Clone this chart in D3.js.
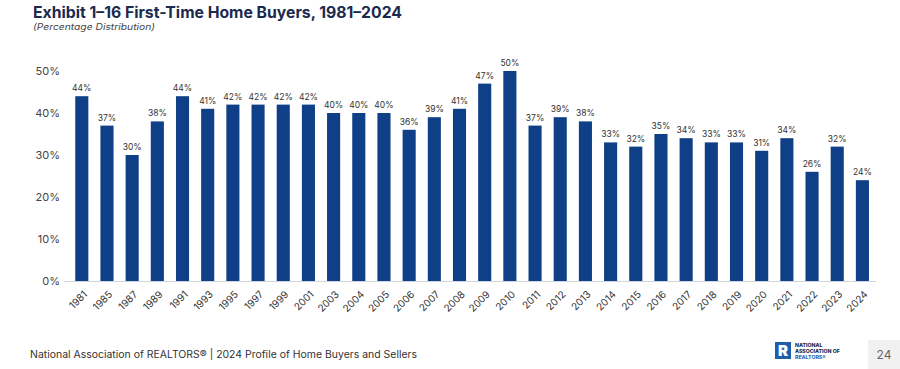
<!DOCTYPE html>
<html>
<head>
<meta charset="utf-8">
<script src="https://cdn.jsdelivr.net/npm/d3@7"></script>
<style>
  body { margin: 0; background: #fff; }
  svg { display: block; font-family: "Inter", "Open Sans", sans-serif; }
</style>
</head>
<body>
<div id="chart"></div>
<script>
var years = ["1981","1985","1987","1989","1991","1993","1995","1997","1999","2001",
  "2003","2004","2005","2006","2007","2008","2009","2010","2011","2012","2013",
  "2014","2015","2016","2017","2018","2019","2020","2021","2022","2023","2024"];
var shares = [44,37,30,38,44,41,42,42,42,42,
  40,40,40,36,39,41,47,50,37,39,38,
  33,32,35,34,33,33,31,34,26,32,24];
var yTicks = [0,10,20,30,40,50];

var W = 900, H = 369;
var barColor = "#0f3f86";

var svg = d3.select("#chart").append("svg")
  .attr("width", W)
  .attr("height", H);

// title block
svg.append("text")
  .attr("x", 33).attr("y", 18)
  .attr("font-size", 15.5).attr("font-weight", 700)
  .attr("fill", "#1b2a4e")
  .attr("textLength", 369).attr("lengthAdjust", "spacingAndGlyphs")
  .text("Exhibit 1\u201316 First-Time Home Buyers, 1981\u20132024");

svg.append("text")
  .attr("x", 33).attr("y", 30)
  .attr("font-size", 9).attr("font-style", "italic")
  .attr("fill", "#444")
  .attr("textLength", 122).attr("lengthAdjust", "spacingAndGlyphs")
  .text("(Percentage  Distribution)");

// scales
var x = d3.scaleBand()
  .domain(years)
  .range([69.2, 875])
  .paddingInner(0.48)
  .paddingOuter(0.24);

var y = d3.scaleLinear()
  .domain([0, 50])
  .range([281, 71]);

// y axis labels
var yAxis = svg.append("g")
  .attr("transform", "translate(60,0)")
  .call(d3.axisLeft(y).tickValues(yTicks).tickSize(0).tickPadding(0)
    .tickFormat(function(d){ return d + "%"; }));
yAxis.select(".domain").remove();
yAxis.selectAll("text")
  .attr("font-size", 11)
  .attr("font-family", "Inter, 'Open Sans', sans-serif")
  .attr("fill", "#444");

// baseline
svg.append("line")
  .attr("x1", 64).attr("x2", 876)
  .attr("y1", y(0) + 0.5).attr("y2", y(0) + 0.5)
  .attr("stroke", "#cfd6e0").attr("stroke-width", 1);

// bars
var rows = years.map(function(d, i){ return {year: d, v: shares[i]}; });

svg.selectAll("rect.bar")
  .data(rows)
  .enter()
  .append("rect")
  .attr("class", "bar")
  .attr("x", function(d){ return x(d.year); })
  .attr("y", function(d){ return y(d.v); })
  .attr("width", x.bandwidth())
  .attr("height", function(d){ return y(0) - y(d.v); })
  .attr("fill", barColor);

svg.selectAll("text.val")
  .data(rows)
  .enter()
  .append("text")
  .attr("class", "val")
  .attr("x", function(d){ return x(d.year) + x.bandwidth()/2; })
  .attr("y", function(d){ return y(d.v) - 5; })
  .attr("text-anchor", "middle")
  .attr("font-size", 8.5)
  .attr("fill", "#333")
  .text(function(d){ return d.v + "%"; });

// x labels, rotated
var xAxis = svg.append("g")
  .attr("transform", "translate(0," + y(0) + ")")
  .call(d3.axisBottom(x).tickSize(0).tickPadding(0));
xAxis.select(".domain").remove();
xAxis.selectAll("text")
  .attr("font-size", 10)
  .attr("font-family", "Inter, 'Open Sans', sans-serif")
  .attr("fill", "#333")
  .attr("text-anchor", "end")
  .attr("dy", 0)
  .attr("transform", "translate(6,14) rotate(-45)");

// footer
svg.append("text")
  .attr("x", 30).attr("y", 358)
  .attr("font-size", 10)
  .attr("fill", "#333")
  .attr("textLength", 387).attr("lengthAdjust", "spacingAndGlyphs")
  .text("National Association of REALTORS\u00ae | 2024 Profile of Home Buyers and Sellers");

// logo
var logo = svg.append("g").attr("transform", "translate(775,342)");
logo.append("rect").attr("width", 16).attr("height", 17).attr("fill", "#1f5ea8");
logo.append("text")
  .attr("x", 8).attr("y", 14)
  .attr("text-anchor", "middle")
  .attr("font-size", 15).attr("font-weight", 900)
  .attr("fill", "#fff")
  .text("R");
var logoLines = ["NATIONAL", "ASSOCIATION OF", "REALTORS\u00ae"];
logo.selectAll("text.lg")
  .data(logoLines)
  .enter()
  .append("text")
  .attr("class", "lg")
  .attr("x", 20)
  .attr("y", function(d, i){ return 4.8 + i * 6; })
  .attr("font-size", 5.2).attr("font-weight", 800)
  .attr("fill", function(d, i){ return i === 2 ? "#2f6db5" : "#1b2a4e"; })
  .text(function(d){ return d; });

// page number
svg.append("rect")
  .attr("x", 868).attr("y", 340)
  .attr("width", 32).attr("height", 29)
  .attr("fill", "#f1f1f1");
svg.append("text")
  .attr("x", 884).attr("y", 359)
  .attr("text-anchor", "middle")
  .attr("font-size", 12)
  .attr("fill", "#666")
  .text("24");
</script>
</body>
</html>
